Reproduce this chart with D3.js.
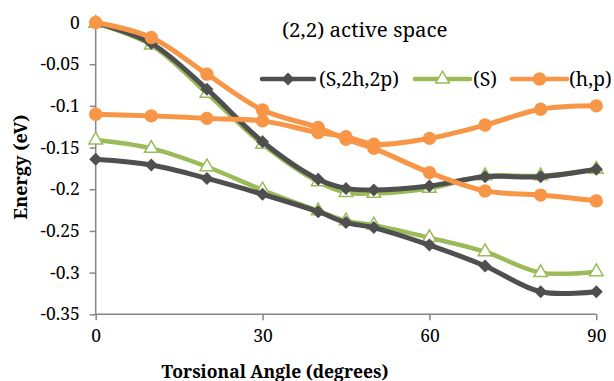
<!DOCTYPE html>
<html>
<head>
<meta charset="utf-8">
<script src="https://cdn.jsdelivr.net/npm/d3@7"></script>
<style>
  body { margin: 0; background: #fff; }
</style>
</head>
<body>
<div id="chart"></div>
<script>
// torsional angles (degrees)
const angles = [0, 10, 20, 30, 40, 45, 50, 60, 70, 80, 90];

// (S,2h,2p) - two states
const s2h2pUpper = [0, -0.025, -0.080, -0.143, -0.188, -0.199, -0.201, -0.196, -0.185, -0.185, -0.176];
const s2h2pLower = [-0.164, -0.171, -0.187, -0.206, -0.227, -0.240, -0.246, -0.267, -0.292, -0.323, -0.323];

// (S) - two states
const sUpper = [-0.001, -0.027, -0.085, -0.146, -0.191, -0.204, -0.205, -0.199, -0.184, -0.184, -0.176];
const sLower = [-0.141, -0.151, -0.173, -0.201, -0.226, -0.238, -0.243, -0.258, -0.275, -0.300, -0.299];

// (h,p) - two states
const hpFirst = [0, -0.018, -0.062, -0.105, -0.126, -0.140, -0.151, -0.180, -0.202, -0.207, -0.214];
const hpSecond = [-0.110, -0.112, -0.115, -0.118, -0.132, -0.137, -0.146, -0.139, -0.123, -0.104, -0.100];

const xTicks = [0, 30, 60, 90];
const yTicks = [0, -0.05, -0.1, -0.15, -0.2, -0.25, -0.3, -0.35];

const legendNames = ["(S,2h,2p)", "(S)", "(h,p)"];

var width = 614, height = 381;
// plot area (don't use "top", it clashes with window.top)
var plotLeft = 95.7, plotRight = 596.3, plotTop = 22.5, plotBottom = 314.3;
var FONT = "'Noto Serif', 'Liberation Serif', serif";

var svg = d3.select("#chart").append("svg")
  .attr("width", width)
  .attr("height", height);

var x = d3.scaleLinear().domain([0, 90]).range([plotLeft, plotRight]);
var y = d3.scaleLinear().domain([0, -0.35]).range([plotTop, plotBottom]);

var axisColor = "#868686";

// y axis
var yAxis = svg.append("g")
  .attr("transform", "translate(" + plotLeft + ",0)")
  .call(d3.axisLeft(y).tickValues(yTicks).tickSize(6).tickPadding(10)
    .tickFormat(d => d === 0 ? "0" : String(+d.toFixed(2))));
// x axis
var xAxis = svg.append("g")
  .attr("transform", "translate(0," + plotBottom + ")")
  .call(d3.axisBottom(x).tickValues(xTicks).tickSize(6).tickPadding(9));

[yAxis, xAxis].forEach(function (g) {
  g.select(".domain").attr("stroke", axisColor).attr("stroke-width", 1.5);
  g.selectAll(".tick line").attr("stroke", axisColor).attr("stroke-width", 1.5);
  g.selectAll(".tick text")
    .style("font-family", FONT)
    .style("font-size", "17.5px")
    .attr("fill", "#000");
});
yAxis.select(".domain").attr("d", "M0," + plotTop + "V" + plotBottom);
xAxis.select(".domain").attr("d", "M" + plotLeft + ",0H" + plotRight);

var green = "#9BBB59", gray = "#4F4F4F", orange = "#F79646";

var line = d3.line()
  .x(d => x(d[0]))
  .y(d => y(d[1]))
  .curve(d3.curveCatmullRom.alpha(0.5));

var series = [
  { values: sUpper, color: green, width: 4.5, marker: "triangle" },
  { values: sLower, color: green, width: 4.5, marker: "triangle" },
  { values: s2h2pUpper, color: gray, width: 5, marker: "diamond" },
  { values: s2h2pLower, color: gray, width: 5, marker: "diamond" },
  { values: hpFirst, color: orange, width: 5, marker: "circle" },
  { values: hpSecond, color: orange, width: 5, marker: "circle" }
];

function markerPath(type) {
  if (type == "triangle") return d3.symbol(d3.symbolTriangle).size(80)();
  if (type == "diamond") return d3.symbol(d3.symbolSquare).size(85)();
  return d3.symbol(d3.symbolCircle).size(140)();
}

function drawMarker(g, type, color, cx, cy) {
  var m = g.append("path")
    .attr("d", markerPath(type))
    .attr("transform", "translate(" + cx + "," + cy + ")" + (type == "diamond" ? " rotate(45)" : ""));
  if (type == "triangle") {
    m.attr("fill", "#fff").attr("stroke", color).attr("stroke-width", 1.5);
  } else {
    m.attr("fill", color);
  }
}

series.forEach(function (s) {
  var pts = angles.map((a, i) => [a, s.values[i]]);
  var g = svg.append("g");
  g.append("path")
    .attr("d", line(pts))
    .attr("fill", "none")
    .attr("stroke", s.color)
    .attr("stroke-width", s.width)
    .attr("stroke-linejoin", "round");
  pts.forEach(function (p) {
    drawMarker(g, s.marker, s.color, x(p[0]), y(p[1]));
  });
});

// title inside plot
svg.append("text")
  .attr("x", 282)
  .attr("y", 37)
  .style("font-family", FONT)
  .style("font-size", "20.5px")
  .text("(2,2) active space");

// legend
var legendItems = [
  { name: legendNames[0], color: gray, marker: "diamond", x1: 262, x2: 314, tx: 319 },
  { name: legendNames[1], color: green, marker: "triangle", x1: 415, x2: 470, tx: 473 },
  { name: legendNames[2], color: orange, marker: "circle", x1: 512, x2: 567, tx: 569 }
];
var ly = 79;
legendItems.forEach(function (d) {
  var g = svg.append("g");
  g.append("line")
    .attr("x1", d.x1).attr("x2", d.x2)
    .attr("y1", ly).attr("y2", ly)
    .attr("stroke", d.color)
    .attr("stroke-width", 4.5)
    .attr("stroke-linecap", "round");
  drawMarker(g, d.marker, d.color, (d.x1 + d.x2) / 2, ly);
  g.append("text")
    .attr("x", d.tx)
    .attr("y", ly + 6.5)
    .style("font-family", FONT)
    .style("font-size", "19.5px")
    .text(d.name);
});

// axis titles
svg.append("text")
  .attr("x", 275)
  .attr("y", 378)
  .attr("text-anchor", "middle")
  .style("font-family", FONT)
  .style("font-size", "17.5px")
  .style("font-weight", "bold")
  .text("Torsional Angle (degrees)");

svg.append("text")
  .attr("transform", "translate(27,167) rotate(-90)")
  .attr("text-anchor", "middle")
  .style("font-family", FONT)
  .style("font-size", "18px")
  .style("font-weight", "bold")
  .text("Energy (eV)");
</script>
</body>
</html>
